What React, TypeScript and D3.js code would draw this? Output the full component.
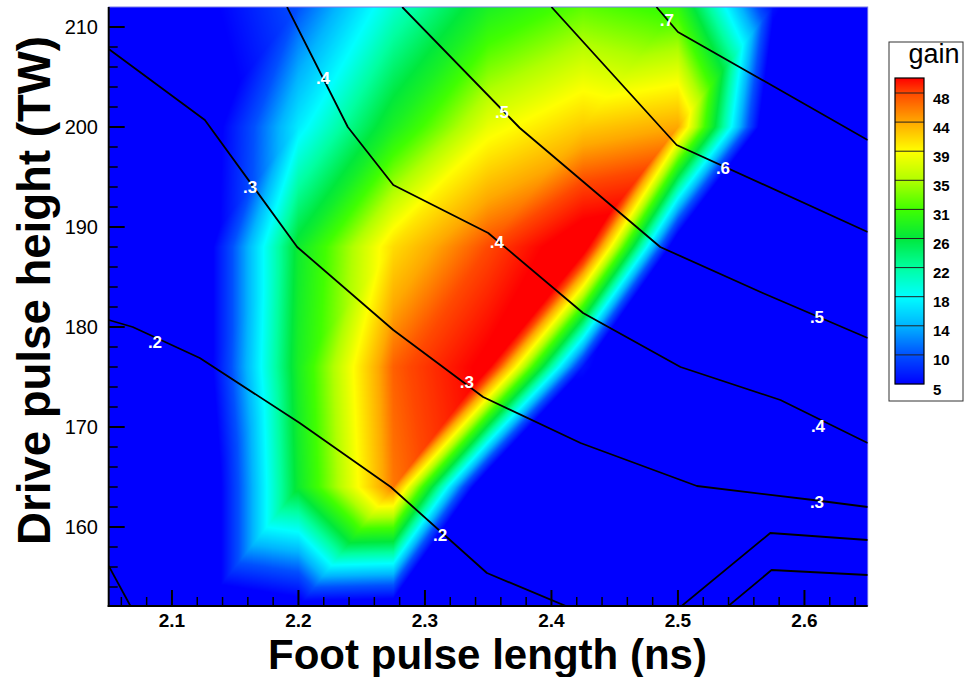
import React, { useEffect, useRef } from 'react';
import * as d3 from 'd3';

// grid of runs
const footLength = [2.05, 2.125, 2.2, 2.275, 2.35, 2.425, 2.5, 2.575, 2.65];
const driveHeight = [152, 164, 176, 188, 200, 212];

// gain at the grid points, one list per drive height (anything under 5 is plain blue)
const gain152 = [0, 0, 3, 2, -5, -5, -5, -5, -5];
const gain164 = [0, 0, 27, 46, -3, -5, -5, -5, -5];
const gain176 = [0, 2.5, 28, 47, 53, 6, -5, -5, -5];
const gain188 = [0, 2.5, 27, 41, 48, 55, 0, -5, -5];
const gain200 = [0, 2, 17, 28, 38, 42, 44, -2, -5];
const gain212 = [0, 4, 10, 20, 28, 32, 30, 6, -5];

// flood levels shown in the legend
const gainLevels = [5, 10, 14, 18, 22, 26, 31, 35, 39, 44, 48];
const gainMax = 52;
const levelColors = ['#0000ff', '#0050ff', '#00b4ff', '#00ffff', '#00ffa0', '#00e83c',
  '#40ff00', '#b0ff00', '#ffff00', '#ffa800', '#ff4800', '#ff0000'];

// contour lines, [ns, TW]
const line01a = [[2.05, 156.1], [2.0685, 151.8]];
const line01b = [[2.537, 151.8], [2.574, 155.7], [2.65, 155.2]];
const line02a = [[2.05, 180.7], [2.069, 180.0], [2.122, 176.9], [2.201, 170.4], [2.273, 164.0], [2.349, 155.4], [2.417, 151.8]];
const line02b = [[2.5, 151.8], [2.573, 159.4], [2.65, 158.7]];
const line03 = [[2.05, 207.8], [2.126, 200.7], [2.199, 188.0], [2.275, 179.7], [2.346, 173.0], [2.423, 168.4], [2.515, 164.1], [2.607, 162.7], [2.65, 162.0]];
const line04 = [[2.191, 212], [2.239, 200], [2.275, 194.2], [2.35, 189.4], [2.425, 181.4], [2.502, 176.0], [2.581, 172.7], [2.65, 168.4]];
const line05 = [[2.282, 212], [2.375, 199.9], [2.486, 188.0], [2.567, 183.4], [2.65, 178.9]];
const line06 = [[2.4, 212], [2.499, 198.2], [2.65, 189.5]];
const line07 = [[2.483, 212], [2.5, 209.5], [2.65, 198.7]];
const contourLines = [line01a, line01b, line02a, line02b, line03, line04, line05, line06, line07];

const contourLabels = [
  { text: '.2', x: 2.0866, y: 178.5 },
  { text: '.2', x: 2.3119, y: 159.2 },
  { text: '.3', x: 2.1617, y: 194.0 },
  { text: '.3', x: 2.3332, y: 174.5 },
  { text: '.3', x: 2.6099, y: 162.5 },
  { text: '.4', x: 2.2194, y: 204.9 },
  { text: '.4', x: 2.3569, y: 188.5 },
  { text: '.4', x: 2.6107, y: 170.1 },
  { text: '.5', x: 2.3609, y: 201.5 },
  { text: '.5', x: 2.6099, y: 181.0 },
  { text: '.6', x: 2.5356, y: 195.9 },
  { text: '.7', x: 2.4913, y: 210.7 },
];

const xTicks = [2.1, 2.2, 2.3, 2.4, 2.5, 2.6];
const yTicks = [160, 170, 180, 190, 200, 210];

const FONT = "'Liberation Sans', Arial, Helvetica, sans-serif";

const App = () => {
  const svgRef = useRef<SVGSVGElement>(null);

  useEffect(() => {
    const svg = d3.select(svgRef.current);
    svg.selectAll('*').remove();

    const left = 108.7, right = 867.7, top = 7, bottom = 606;
    const x = d3.scaleLinear().domain([2.05, 2.65]).range([left, right]);
    const y = d3.scaleLinear().domain([152.1, 212]).range([bottom, top]);
    const color = d3.scaleLinear<string>()
      .domain([...gainLevels, gainMax])
      .range(levelColors)
      .interpolate(d3.interpolateRgb)
      .clamp(true);

    // flood: each grid cell split into two triangles, linear inside each
    const rows = [gain152, gain164, gain176, gain188, gain200, gain212];
    const dx = footLength[1] - footLength[0];
    const dy = driveHeight[1] - driveHeight[0];
    const gainAt = (fx: number, fy: number) => {
      const i = Math.max(0, Math.min(footLength.length - 2, Math.floor((fx - footLength[0]) / dx)));
      const j = Math.max(0, Math.min(driveHeight.length - 2, Math.floor((fy - driveHeight[0]) / dy)));
      const u = (fx - footLength[i]) / dx;
      const v = (fy - driveHeight[j]) / dy;
      const g00 = rows[j][i], g10 = rows[j][i + 1], g01 = rows[j + 1][i], g11 = rows[j + 1][i + 1];
      return u >= v
        ? g00 + u * (g10 - g00) + v * (g11 - g10)
        : g00 + v * (g01 - g00) + u * (g11 - g01);
    };

    const x0 = Math.floor(left), y0 = top;
    const w = Math.ceil(right) - x0, h = bottom - top;
    const canvas = document.createElement('canvas');
    canvas.width = w;
    canvas.height = h;
    const ctx = canvas.getContext('2d')!;
    const img = ctx.createImageData(w, h);
    const step = 0.05;
    const lut = d3.range(-10, 60 + step, step).map(v => d3.rgb(color(v)));
    for (let py = 0; py < h; py++) {
      const fy = y.invert(y0 + py + 0.5);
      for (let px = 0; px < w; px++) {
        const fx = x.invert(x0 + px + 0.5);
        const g = gainAt(fx, fy);
        const c = lut[Math.max(0, Math.min(lut.length - 1, Math.round((g + 10) / step)))];
        const k = (py * w + px) * 4;
        img.data[k] = c.r;
        img.data[k + 1] = c.g;
        img.data[k + 2] = c.b;
        img.data[k + 3] = 255;
      }
    }
    ctx.putImageData(img, 0, 0);

    svg.append('image')
      .attr('href', canvas.toDataURL())
      .attr('x', x0)
      .attr('y', y0)
      .attr('width', w)
      .attr('height', h)
      .attr('preserveAspectRatio', 'none');

    // frame
    svg.append('rect')
      .attr('x', left).attr('y', top)
      .attr('width', right - left).attr('height', bottom - top)
      .attr('fill', 'none')
      .attr('stroke', '#7878e8')
      .attr('stroke-width', 1);

    svg.append('clipPath').attr('id', 'plot-clip')
      .append('rect')
      .attr('x', left).attr('y', top)
      .attr('width', right - left).attr('height', bottom - top);

    // contour lines
    const line = d3.line<number[]>().x(d => x(d[0])).y(d => y(d[1]));
    svg.append('g')
      .attr('clip-path', 'url(#plot-clip)')
      .selectAll('path')
      .data(contourLines)
      .join('path')
      .attr('d', line)
      .attr('fill', 'none')
      .attr('stroke', '#000')
      .attr('stroke-width', 1.8)
      .attr('stroke-linejoin', 'round');

    svg.append('g')
      .selectAll('text')
      .data(contourLabels)
      .join('text')
      .attr('x', d => x(d.x))
      .attr('y', d => y(d.y))
      .attr('text-anchor', 'middle')
      .attr('dominant-baseline', 'central')
      .attr('fill', '#fff')
      .style('font-family', FONT)
      .style('font-weight', 'bold')
      .style('font-size', '17px')
      .text(d => d.text);

    // axes lines
    svg.append('line')
      .attr('x1', left).attr('x2', left).attr('y1', top).attr('y2', bottom + 1)
      .attr('stroke', '#000').attr('stroke-width', 2);
    svg.append('line')
      .attr('x1', left - 1).attr('x2', right).attr('y1', bottom).attr('y2', bottom)
      .attr('stroke', '#000').attr('stroke-width', 2);

    // ticks, pointing into the plot
    const xMinor = d3.range(2.06, 2.65, 0.02).filter(v => xTicks.every(t => Math.abs(t - v) > 1e-6));
    const yMinor = d3.range(154, 212, 2).filter(v => yTicks.indexOf(v) < 0);
    const ticks = svg.append('g').attr('stroke', '#000');
    ticks.selectAll('.xmaj').data(xTicks).join('line')
      .attr('x1', d => x(d)).attr('x2', d => x(d))
      .attr('y1', bottom).attr('y2', bottom - 16).attr('stroke-width', 2);
    ticks.selectAll('.xmin').data(xMinor).join('line')
      .attr('x1', d => x(d)).attr('x2', d => x(d))
      .attr('y1', bottom).attr('y2', bottom - 9).attr('stroke-width', 1.5);
    ticks.selectAll('.ymaj').data(yTicks).join('line')
      .attr('y1', d => y(d)).attr('y2', d => y(d))
      .attr('x1', left).attr('x2', left + 16).attr('stroke-width', 2);
    ticks.selectAll('.ymin').data(yMinor).join('line')
      .attr('y1', d => y(d)).attr('y2', d => y(d))
      .attr('x1', left).attr('x2', left + 9).attr('stroke-width', 1.5);

    // tick labels
    svg.append('g').selectAll('text').data(xTicks).join('text')
      .attr('x', d => x(d))
      .attr('y', 627)
      .attr('text-anchor', 'middle')
      .style('font-family', FONT)
      .style('font-weight', 'bold')
      .style('font-size', '19px')
      .text(d => d3.format('.1f')(d));
    svg.append('g').selectAll('text').data(yTicks).join('text')
      .attr('x', 98)
      .attr('y', d => y(d))
      .attr('text-anchor', 'end')
      .attr('dominant-baseline', 'central')
      .style('font-family', FONT)
      .style('font-size', '20px')
      .text(d => d);

    // axis titles
    svg.append('text')
      .attr('x', 487.5)
      .attr('y', 669)
      .attr('text-anchor', 'middle')
      .attr('textLength', 439)
      .attr('lengthAdjust', 'spacingAndGlyphs')
      .style('font-family', FONT)
      .style('font-weight', 'bold')
      .style('font-size', '42px')
      .text('Foot pulse length (ns)');
    svg.append('text')
      .attr('transform', 'translate(50, 290.5) rotate(-90)')
      .attr('text-anchor', 'middle')
      .attr('textLength', 509)
      .attr('lengthAdjust', 'spacingAndGlyphs')
      .style('font-family', FONT)
      .style('font-weight', 'bold')
      .style('font-size', '46px')
      .text('Drive pulse height (TW)');

    // legend
    const legend = svg.append('g');
    legend.append('rect')
      .attr('x', 889).attr('y', 42).attr('width', 74).attr('height', 359)
      .attr('fill', '#fff').attr('stroke', '#333').attr('stroke-width', 1);
    legend.append('text')
      .attr('x', 934).attr('y', 63)
      .attr('text-anchor', 'middle')
      .style('font-family', FONT)
      .style('font-size', '27px')
      .text('gain');

    const barBottom = 384, bandH = 29.1, barTop = 78, barX = 895, barW = 29;
    const ly = d3.scaleLinear()
      .domain([...gainLevels, gainMax])
      .range([...gainLevels.map((_, i) => barBottom - i * bandH), barTop]);
    legend.selectAll('.strip').data(d3.range(barTop, barBottom)).join('rect')
      .attr('x', barX).attr('y', d => d).attr('width', barW).attr('height', 1.2)
      .attr('fill', d => color(ly.invert(d + 0.5)));
    legend.selectAll('.edge').data(gainLevels.slice(1)).join('line')
      .attr('x1', barX).attr('x2', barX + barW)
      .attr('y1', d => ly(d)).attr('y2', d => ly(d))
      .attr('stroke', '#222').attr('stroke-width', 1);
    legend.append('rect')
      .attr('x', barX).attr('y', barTop).attr('width', barW).attr('height', barBottom - barTop)
      .attr('fill', 'none').attr('stroke', '#000').attr('stroke-width', 1.2);
    legend.selectAll('.lab').data(gainLevels).join('text')
      .attr('x', 933)
      .attr('y', d => ly(d) + 5)
      .attr('dominant-baseline', 'central')
      .style('font-family', FONT)
      .style('font-weight', 'bold')
      .style('font-size', '15px')
      .text(d => d);
  }, []);

  return (
    <svg
      ref={svgRef}
      width={964}
      height={677}
      viewBox="0 0 964 677"
      style={{ position: 'absolute', left: 0, top: 0, background: '#fff' }}
    />
  );
};

export default App;
